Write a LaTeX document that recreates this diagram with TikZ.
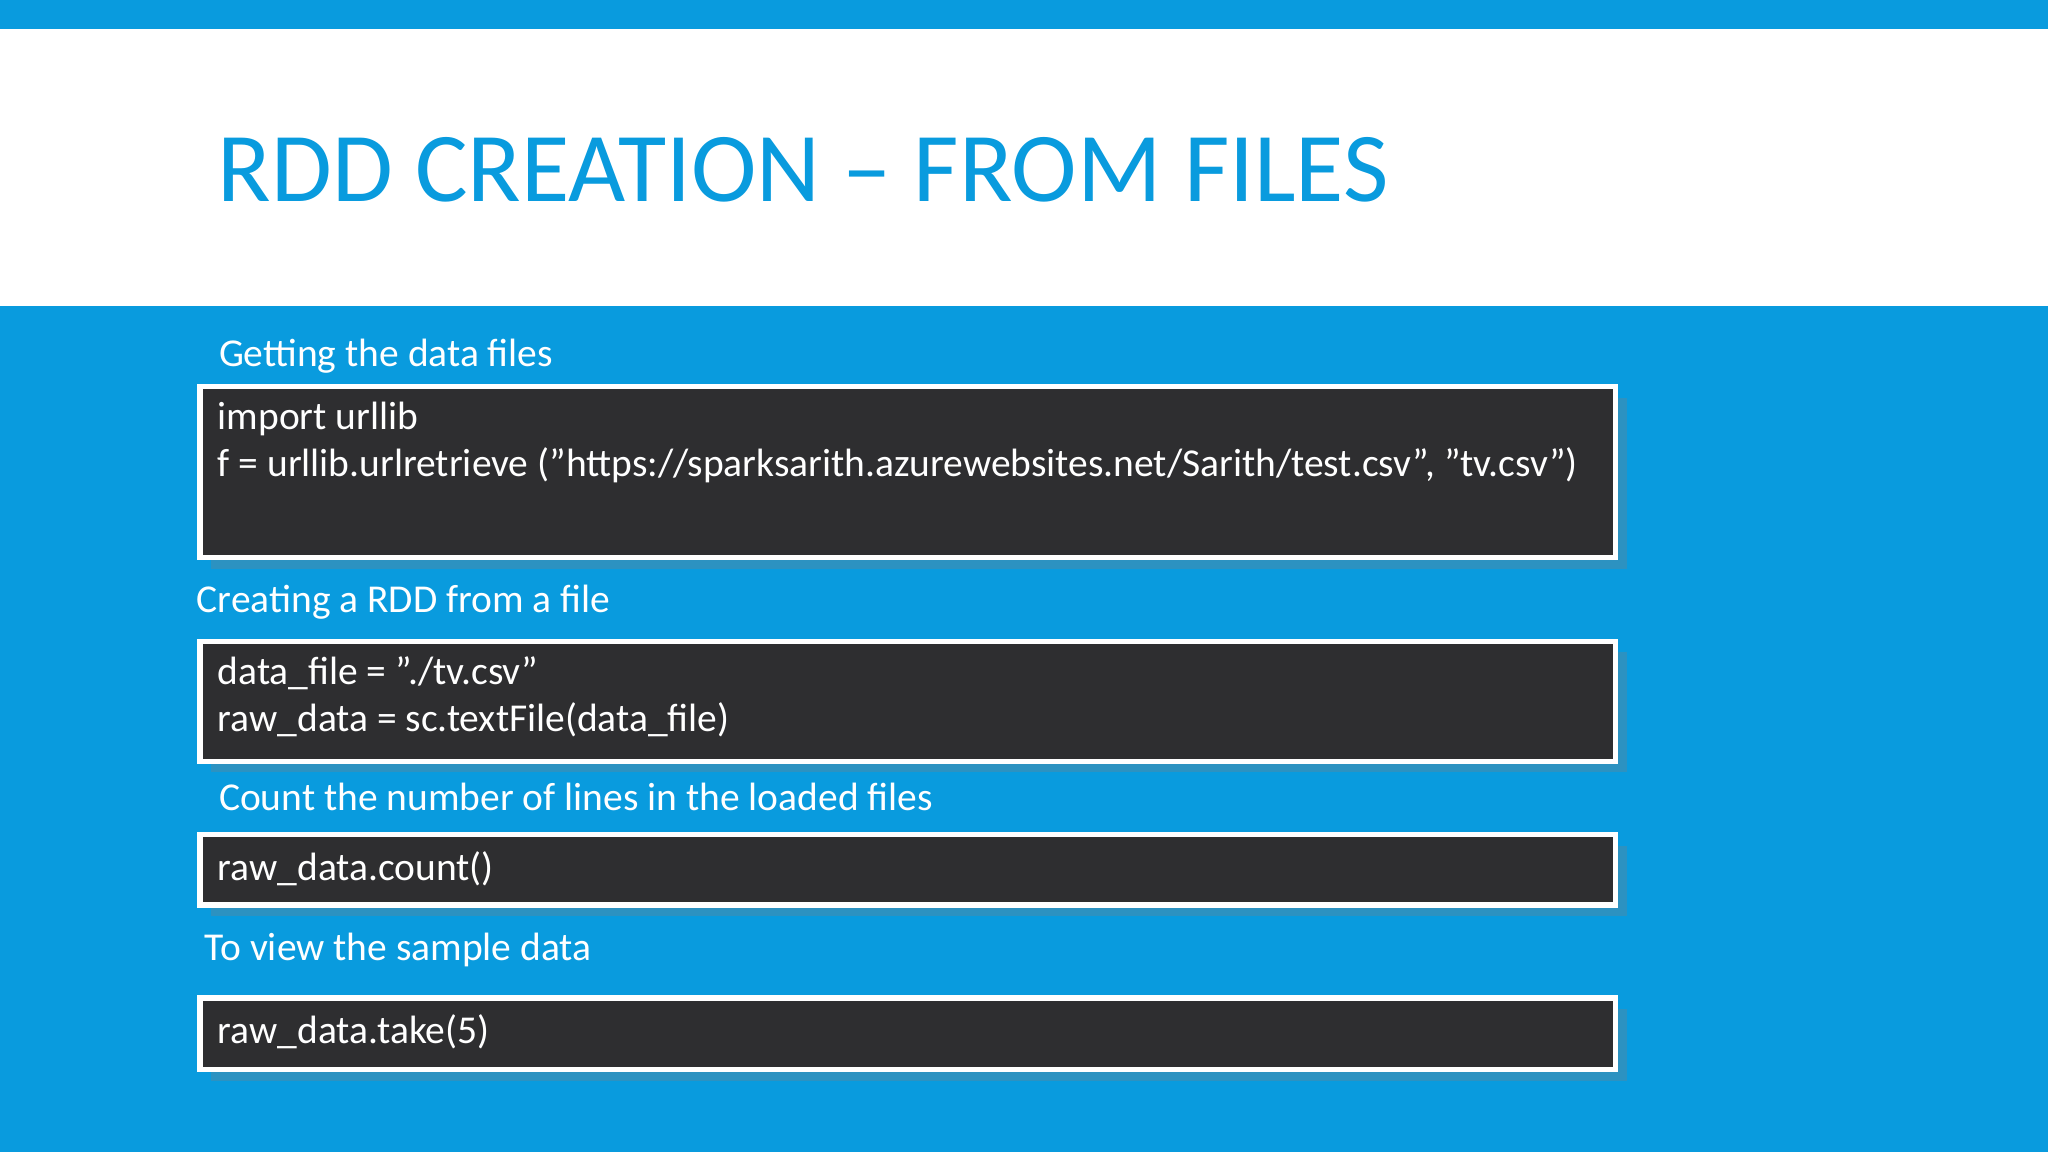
\documentclass[tikz,border=0pt]{standalone}
\usepackage{fontspec}
\setmainfont{Carlito}
\usetikzlibrary{shadows}
\definecolor{slideblue}{RGB}{9,155,222}
\definecolor{codebg}{RGB}{46,46,48}
\begin{document}
\begin{tikzpicture}[x=0.01cm, y=-0.01cm,
        codebox/.style={draw=white, line width=1.2pt, fill=codebg, drop shadow={opacity=0.3}},
        codetext/.style={anchor=north west, text=white, font=\fontsize{8.6}{10.2}\selectfont, align=left, inner sep=0pt},
        label/.style={anchor=west, text=white, font=\fontsize{8.6}{10}\selectfont, inner sep=0pt}]
        \useasboundingbox (0,0) rectangle (1568,882);
        % background
        \fill[slideblue] (0,0) rectangle (1568,882);
        \fill[white] (0,22) rectangle (1568,234);
        \node[anchor=west, text=slideblue, inner sep=0pt, font=\fontsize{21.5}{24}\selectfont] (title) at (166,130) {RDD CREATION -- FROM FILES};

        % boxes
        \draw[codebox] (153,296) rectangle (1237,427);
        \draw[codebox] (153,491) rectangle (1237,583);
        \draw[codebox] (153,639) rectangle (1237,693);
        \draw[codebox] (153,764) rectangle (1237,819);

        % labels
        \node[label] (getting) at (167,273) {Getting the data files};
        \node[label] (creating) at (150,461) {Creating a RDD from a file};
        \node[label] (count) at (167,610) {Count the number of lines in the loaded files};
        \node[label] (view) at (156,727) {To view the sample data};

        % code
        \node[codetext] (code1) at (166,307) {import urllib\\f = urllib.urlretrieve ("https://sparksarith.azurewebsites.net/Sarith/test.csv", "tv.csv")};
        \node[codetext] (code2) at (166,502) {data\_file = "./tv.csv"\\raw\_data = sc.textFile(data\_file)};
        \node[codetext] (code3) at (166,651) {raw\_data.count()};
        \node[codetext] (code4) at (166,776) {raw\_data.take(5)};
    \end{tikzpicture}
\end{document}
